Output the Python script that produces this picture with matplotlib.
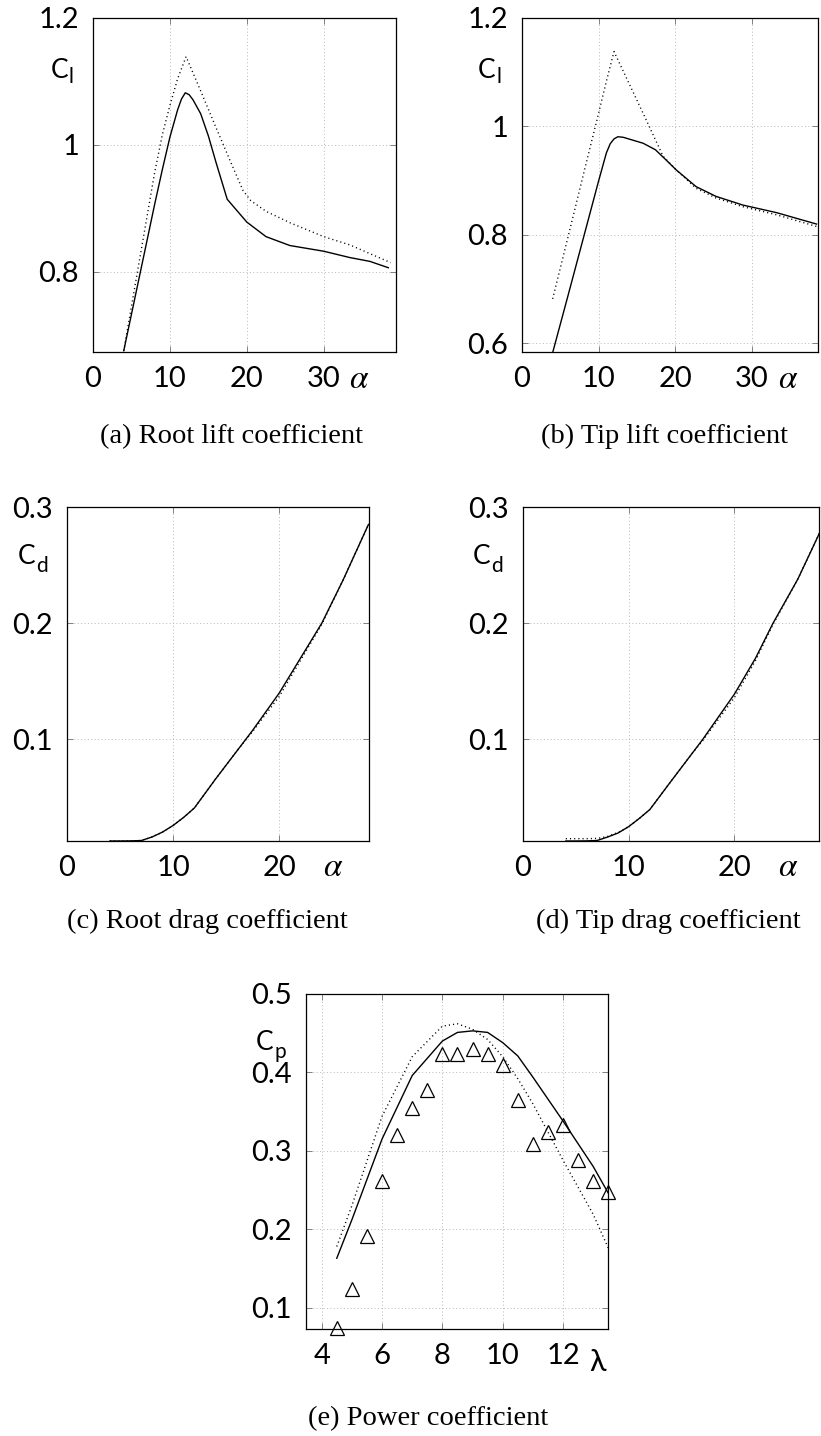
import matplotlib
matplotlib.use("Agg")
from matplotlib import pyplot as plt

plt.rcParams['mathtext.fontset'] = 'stix'

W, H = 821, 1436

# (a) root lift coefficient
root_cl_alpha = [4.0, 6, 8, 9, 10, 11, 11.5, 12, 12.5, 13, 14, 15, 16, 17.45, 20, 22.5, 25.6, 30, 33.4, 36, 38.4]
root_cl_calc = [0.675, 0.79, 0.905, 0.96, 1.012, 1.055, 1.072, 1.082, 1.079, 1.071, 1.049, 1.014, 0.972, 0.914, 0.878, 0.855, 0.841, 0.832, 0.822, 0.816, 0.806]
root_cl_ref_alpha = [4.0, 6, 8, 9, 10, 11, 12.1, 14, 16, 18, 19.5, 20.5, 22.5, 25.6, 30, 33.4, 38.7]
root_cl_ref = [0.675, 0.815, 0.955, 1.015, 1.062, 1.104, 1.139, 1.085, 1.027, 0.970, 0.928, 0.912, 0.895, 0.877, 0.855, 0.842, 0.814]

# (b) tip lift coefficient
tip_cl_alpha = [4.04, 6, 8, 10, 11, 11.5, 12, 12.5, 13.2, 15.8, 17.4, 18.8, 20.1, 22.7, 25.3, 28.8, 33.2, 38.4]
tip_cl_calc = [0.585, 0.688, 0.794, 0.90, 0.951, 0.968, 0.977, 0.981, 0.980, 0.969, 0.957, 0.938, 0.920, 0.889, 0.871, 0.855, 0.841, 0.820]
tip_cl_ref_alpha = [4.0, 6, 8, 10, 11, 12, 14, 16, 18.4, 20.1, 22.7, 25.3, 28.8, 33.2, 38.8]
tip_cl_ref = [0.682, 0.796, 0.911, 1.025, 1.083, 1.138, 1.078, 1.018, 0.945, 0.920, 0.886, 0.868, 0.852, 0.837, 0.814]

# (c) root drag coefficient
root_cd_alpha = [4.05, 5, 6, 7, 8, 9, 10, 11, 12, 14, 16, 17.5, 20, 22, 24, 26, 28.4]
root_cd_calc = [0.0126, 0.0126, 0.0127, 0.013, 0.016, 0.0203, 0.026, 0.033, 0.041, 0.066, 0.090, 0.108, 0.140, 0.170, 0.200, 0.237, 0.285]
root_cd_ref = [0.0126, 0.0126, 0.0127, 0.013, 0.016, 0.0203, 0.026, 0.033, 0.041, 0.066, 0.090, 0.107, 0.137, 0.168, 0.199, 0.237, 0.285]

# (d) tip drag coefficient
tip_cd_alpha = [4.05, 5, 6, 7, 8, 9, 10, 11, 12, 14, 16, 17, 20, 22, 23.65, 26, 28.07]
tip_cd_calc = [0.0126, 0.0126, 0.0127, 0.013, 0.016, 0.0195, 0.025, 0.032, 0.0397, 0.064, 0.088, 0.100, 0.139, 0.170, 0.200, 0.238, 0.278]
tip_cd_ref = [0.0146, 0.0146, 0.0146, 0.0148, 0.0165, 0.020, 0.025, 0.032, 0.0397, 0.064, 0.088, 0.099, 0.136, 0.168, 0.199, 0.238, 0.278]

# (e) power coefficient
tsr = [4.5, 5, 6, 7, 8, 8.5, 9, 9.5, 10, 10.5, 11, 12, 13, 13.5]
cp_calc = [0.163, 0.212, 0.315, 0.396, 0.440, 0.451, 0.453, 0.451, 0.438, 0.421, 0.394, 0.338, 0.280, 0.246]
cp_ref = [0.178, 0.23, 0.344, 0.420, 0.459, 0.462, 0.455, 0.442, 0.420, 0.392, 0.360, 0.288, 0.219, 0.176]
tsr_meas = [4.5, 5, 5.5, 6, 6.5, 7, 7.5, 8, 8.5, 9, 9.5, 10, 10.5, 11, 11.5, 12, 12.5, 13, 13.5]
cp_meas = [0.0745, 0.124, 0.191, 0.261, 0.320, 0.354, 0.378, 0.423, 0.424, 0.430, 0.424, 0.409, 0.365, 0.3085, 0.324, 0.333, 0.288, 0.261, 0.248]

tick_font = ['Lato', 'DejaVu Sans']
cap_font = 'Liberation Serif'
dots = (0, (0.8, 2.2))

fig = plt.figure(figsize=(W / 100, H / 100), dpi=100)


def make_axes(l, r, t, b):
    ax = fig.add_axes([l / W, 1 - b / H, (r - l) / W, (b - t) / H])
    ax.grid(True, color='#b8b8b8', linestyle=(0, (1, 2.5)), linewidth=0.7)
    ax.tick_params(direction='in', top=True, right=True, length=4, width=0.7,
                   color='#808080', labelsize=21, pad=10)
    for s in ax.spines.values():
        s.set_linewidth(0.9)
    return ax


def style_ticks(ax):
    for lab in ax.get_xticklabels() + ax.get_yticklabels():
        lab.set_family(tick_font)


def ylabel(x, y, main, sub, dy=7):
    fig.text(x / W, 1 - y / H, main, family=tick_font, fontsize=19, ha='right', va='center')
    fig.text((x + 1) / W, 1 - (y + dy) / H, sub, family=tick_font, fontsize=15, ha='left', va='center')


def caption(x, y, s):
    fig.text(x / W, 1 - y / H, s, family=cap_font, fontsize=20.5, ha='center', va='baseline')


# (a)
ax = make_axes(93, 396, 18, 352)
ax.plot(root_cl_alpha, root_cl_calc, color='black', lw=1.0)
ax.plot(root_cl_ref_alpha, root_cl_ref, color='black', lw=1.0, linestyle=dots)
ax.set_xlim(0, 39.4)
ax.set_ylim(0.673, 1.2)
ax.set_xticks([0, 10, 20, 30])
ax.set_yticks([0.8, 1.0, 1.2])
ax.set_yticklabels(['0.8', '1', '1.2'])
style_ticks(ax)
ylabel(68, 71, 'C', 'l', dy=6)
fig.text(359 / W, 1 - 378 / H, r'$\alpha$', fontsize=24, ha='center', va='center')
caption(231, 443, '(a) Root lift coefficient')

# (b)
ax = make_axes(522, 818, 18, 352)
ax.plot(tip_cl_alpha, tip_cl_calc, color='black', lw=1.0)
ax.plot(tip_cl_ref_alpha, tip_cl_ref, color='black', lw=1.0, linestyle=dots)
ax.set_xlim(0, 38.6)
ax.set_ylim(0.584, 1.2)
ax.set_xticks([0, 10, 20, 30])
ax.set_yticks([0.6, 0.8, 1.0, 1.2])
ax.set_yticklabels(['0.6', '0.8', '1', '1.2'])
style_ticks(ax)
ylabel(495, 71, 'C', 'l', dy=6)
fig.text(788 / W, 1 - 378 / H, r'$\alpha$', fontsize=24, ha='center', va='center')
caption(664, 443, '(b) Tip lift coefficient')

# (c)
ax = make_axes(67, 369, 507, 841)
ax.plot(root_cd_alpha, root_cd_calc, color='black', lw=1.0)
ax.plot(root_cd_alpha, root_cd_ref, color='black', lw=1.0, linestyle=dots)
ax.set_xlim(0, 28.45)
ax.set_ylim(0.0126, 0.3)
ax.set_xticks([0, 10, 20])
ax.set_yticks([0.1, 0.2, 0.3])
ax.set_yticklabels(['0.1', '0.2', '0.3'])
style_ticks(ax)
ylabel(35, 557, 'C', 'd', dy=9)
fig.text(333 / W, 1 - 867 / H, r'$\alpha$', fontsize=24, ha='center', va='center')
caption(207, 928, '(c) Root drag coefficient')

# (d)
ax = make_axes(523, 819, 507, 841)
ax.plot(tip_cd_alpha, tip_cd_calc, color='black', lw=1.0)
ax.plot(tip_cd_alpha, tip_cd_ref, color='black', lw=1.0, linestyle=dots)
ax.set_xlim(0, 28.0)
ax.set_ylim(0.0126, 0.3)
ax.set_xticks([0, 10, 20])
ax.set_yticks([0.1, 0.2, 0.3])
ax.set_yticklabels(['0.1', '0.2', '0.3'])
style_ticks(ax)
ylabel(490, 557, 'C', 'd', dy=9)
fig.text(788 / W, 1 - 867 / H, r'$\alpha$', fontsize=24, ha='center', va='center')
caption(668, 928, '(d) Tip drag coefficient')

# (e)
ax = make_axes(306, 608, 994, 1329)
ax.plot(tsr, cp_calc, color='black', lw=1.0)
ax.plot(tsr, cp_ref, color='black', lw=1.0, linestyle=dots)
ax.plot(tsr_meas, cp_meas, linestyle='none', marker='^', markersize=10,
        markerfacecolor='none', markeredgecolor='black', markeredgewidth=0.9, clip_on=False)
ax.set_xlim(3.48, 13.49)
ax.set_ylim(0.0728, 0.5)
ax.set_xticks([4, 6, 8, 10, 12])
ax.set_yticks([0.1, 0.2, 0.3, 0.4, 0.5])
ax.set_yticklabels(['0.1', '0.2', '0.3', '0.4', '0.5'])
style_ticks(ax)
ylabel(273, 1043, 'C', 'p', dy=9)
fig.text(598 / W, 1 - 1362 / H, 'λ', family=tick_font, fontsize=22, ha='center', va='center')
caption(428, 1425, '(e) Power coefficient')

fig.savefig('out.png', dpi=100)
